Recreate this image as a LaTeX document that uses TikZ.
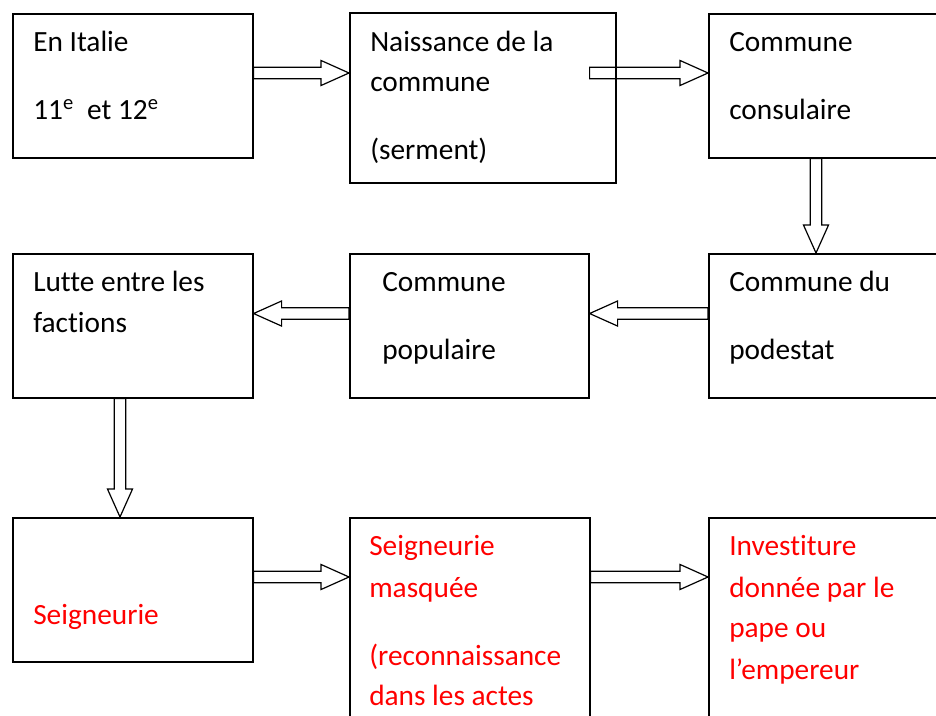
\documentclass[tikz,border=0pt]{standalone}
\usepackage{fontspec}
\setmainfont{Carlito}[Ligatures=CommonOff]
\usetikzlibrary{calc}

\definecolor{textred}{RGB}{255,0,0}

\tikzset{
  box/.style={draw, line width=1.2pt, rectangle, anchor=north west, inner sep=0pt,
    minimum width=180pt, minimum height=108pt},
  txt/.style={anchor=base west, inner sep=0pt, font=\fontsize{22}{26}\selectfont},
  redtxt/.style={txt, text=textred},
  fatarrow/.style={draw, line width=0.9pt, line join=miter, to path={
    ($(\tikztostart)!4.3pt!90:(\tikztotarget)$)
    -- ($($(\tikztotarget)!21pt!(\tikztostart)$)!4.3pt!90:(\tikztotarget)$)
    -- ($($(\tikztotarget)!21pt!(\tikztostart)$)!9.4pt!90:(\tikztotarget)$)
    -- (\tikztotarget)
    -- ($($(\tikztotarget)!21pt!(\tikztostart)$)!9.4pt!-90:(\tikztotarget)$)
    -- ($($(\tikztotarget)!21pt!(\tikztostart)$)!4.3pt!-90:(\tikztotarget)$)
    -- ($(\tikztostart)!4.3pt!-90:(\tikztotarget)$) -- cycle}}
}

\begin{document}
\begin{tikzpicture}[x=0.75pt, y=-0.75pt]
  \path[use as bounding box, clip] (0,0) rectangle (936,716);

  % boxes
  \node[box] (italie) at (12,13) {};
  \node[box, minimum width=199.5pt, minimum height=127.5pt] (naissance) at (349,12) {};
  \node[box] (consulaire) at (708,13) {};
  \node[box] (lutte) at (12,253) {};
  \node[box, minimum width=179.25pt] (populaire) at (349,253) {};
  \node[box] (podestat) at (708,253) {};
  \node[box] (seigneurie) at (12,517) {};
  \node[box, minimum height=165pt] (masquee) at (349,517) {};
  \node[box, minimum height=165pt] (investiture) at (708,517) {};

  % texts
  \node[txt] (italie-a) at (33,52) {En Italie};
  \node[txt] (italie-b) at (33,120) {11\textsuperscript{e}\ \ et 12\textsuperscript{e}};

  \node[txt] (naissance-a) at (370,52) {Naissance de la};
  \node[txt] (naissance-b) at (370,92) {commune};
  \node[txt] (naissance-c) at (370,160) {(serment)};

  \node[txt] (consulaire-a) at (729,52) {Commune};
  \node[txt] (consulaire-b) at (729,120) {consulaire};

  \node[txt] (lutte-a) at (33,292) {Lutte entre les};
  \node[txt] (lutte-b) at (33,333) {factions};

  \node[txt] (populaire-a) at (382,292) {Commune};
  \node[txt] (populaire-b) at (382,360) {populaire};

  \node[txt] (podestat-a) at (729,292) {Commune du};
  \node[txt] (podestat-b) at (729,360) {podestat};

  \node[redtxt] (seigneurie-a) at (33,624) {Seigneurie};

  \node[redtxt] (masquee-a) at (369,556) {Seigneurie};
  \node[redtxt] (masquee-b) at (369,597) {masquée};
  \node[redtxt] (masquee-c) at (369,665) {(reconnaissance};
  \node[redtxt] (masquee-d) at (369,705) {dans les actes};

  \node[redtxt] (investiture-a) at (729,556) {Investiture};
  \node[redtxt] (investiture-b) at (729,597) {donnée par le};
  \node[redtxt] (investiture-c) at (729,638) {pape ou};
  \node[redtxt] (investiture-d) at (729,679) {l’empereur};

  % arrows
  \draw[fatarrow] ([yshift=-45pt]italie.north east) to ([yshift=-45.75pt]naissance.north west);
  \draw[fatarrow] ([xshift=-20.25pt, yshift=-45.75pt]naissance.north east) to ([yshift=-45pt]consulaire.north west);
  \draw[fatarrow] ([xshift=81pt]consulaire.south west) to ([xshift=81pt]podestat.north west);
  \draw[fatarrow] ([yshift=-45.4pt]podestat.north west) to ([yshift=-45.4pt]populaire.north east);
  \draw[fatarrow] ([yshift=-45.4pt]populaire.north west) to ([yshift=-45.4pt]lutte.north east);
  \draw[fatarrow] ([xshift=81pt]lutte.south west) to ([xshift=81pt]seigneurie.north west);
  \draw[fatarrow] ([yshift=-45pt]seigneurie.north east) to ([yshift=-45pt]masquee.north west);
  \draw[fatarrow] ([yshift=-45pt]masquee.north east) to ([yshift=-45pt]investiture.north west);
\end{tikzpicture}
\end{document}
